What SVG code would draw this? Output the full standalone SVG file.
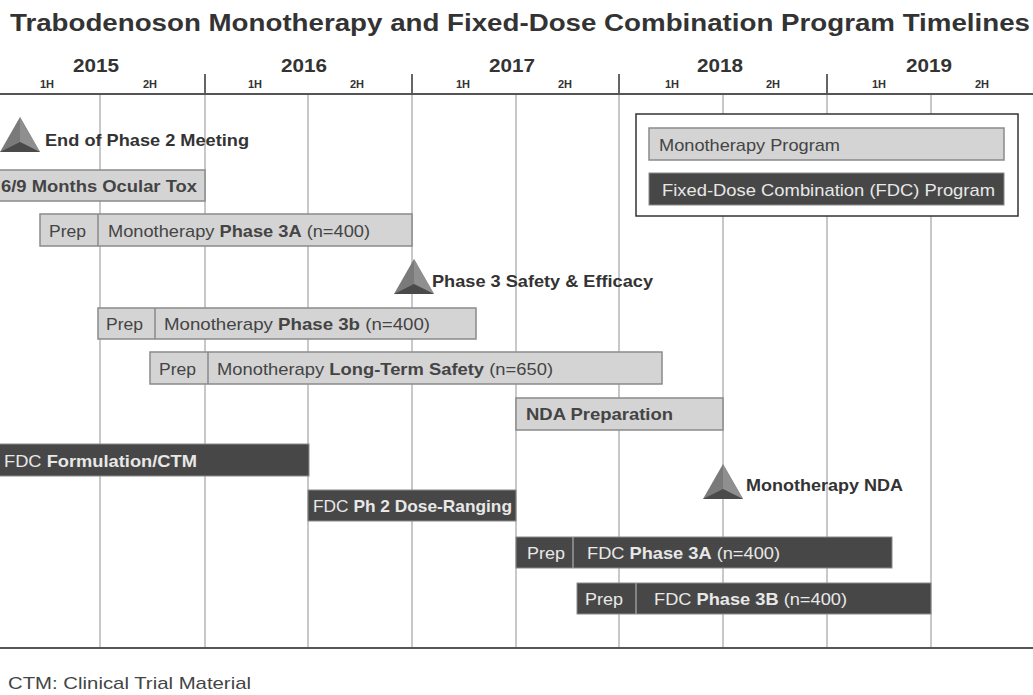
<svg xmlns="http://www.w3.org/2000/svg" width="1033" height="695" viewBox="0 0 1033 695">
<style>
text{font-family:"Liberation Sans",Arial,sans-serif;}
.title{font-size:23px;font-weight:bold;fill:#333;}
.yr{font-size:19px;font-weight:bold;fill:#333;text-anchor:middle;}
.hf{font-size:11px;font-weight:bold;fill:#333;text-anchor:middle;}
.grid{stroke:#c8c8c8;stroke-width:2;}
.tick{stroke:#666;stroke-width:2;}
.axis{stroke:#555;stroke-width:2;}
.lb{fill:#d4d4d4;stroke:#8a8a8a;stroke-width:1.5;}
.db{fill:#474747;stroke:#8a8a8a;stroke-width:1;}
.lt{font-size:17px;fill:#444;}
.dt{font-size:17px;fill:#e8e8e8;}
.b{font-weight:bold;}
.ms{font-size:17px;font-weight:bold;fill:#333;}
.sep{stroke:#8a8a8a;stroke-width:1.5;}
.sepd{stroke:#999;stroke-width:1.5;}
</style>
<defs>
<g id="tri">
<polygon points="0,-19 -20,16 20,16" fill="#7a7a7a"/>
<polygon points="0,-19 0,6 20,16" fill="#8f8f8f"/>
<polygon points="-20,16 0,6 20,16" fill="#4a4a4a"/>
</g>
</defs>
<rect width="1033" height="695" fill="#fff"/>
<text class="title" x="10" y="31" textLength="1020" lengthAdjust="spacingAndGlyphs">Trabodenoson Monotherapy and Fixed-Dose Combination Program Timelines</text>
<g id="axis">
<g class="grid">
<line x1="100" y1="94" x2="100" y2="648"/><line x1="205" y1="94" x2="205" y2="648"/>
<line x1="308" y1="94" x2="308" y2="648"/><line x1="412" y1="94" x2="412" y2="648"/>
<line x1="516" y1="94" x2="516" y2="648"/><line x1="619" y1="94" x2="619" y2="648"/>
<line x1="723" y1="94" x2="723" y2="648"/><line x1="827" y1="94" x2="827" y2="648"/>
<line x1="931" y1="94" x2="931" y2="648"/>
</g>
<g class="tick">
<line x1="205" y1="74" x2="205" y2="94"/><line x1="412" y1="74" x2="412" y2="94"/>
<line x1="619" y1="74" x2="619" y2="94"/><line x1="827" y1="74" x2="827" y2="94"/>
</g>
<line class="axis" x1="0" y1="94" x2="1033" y2="94"/>
<line class="axis" x1="0" y1="648" x2="1033" y2="648"/>
<text class="yr" x="96" y="72" textLength="46" lengthAdjust="spacingAndGlyphs">2015</text>
<text class="yr" x="304" y="72" textLength="46" lengthAdjust="spacingAndGlyphs">2016</text>
<text class="yr" x="512" y="72" textLength="46" lengthAdjust="spacingAndGlyphs">2017</text>
<text class="yr" x="720" y="72" textLength="46" lengthAdjust="spacingAndGlyphs">2018</text>
<text class="yr" x="929" y="72" textLength="46" lengthAdjust="spacingAndGlyphs">2019</text>
<text class="hf" x="47" y="88">1H</text><text class="hf" x="150" y="88">2H</text>
<text class="hf" x="255" y="88">1H</text><text class="hf" x="357" y="88">2H</text>
<text class="hf" x="463" y="88">1H</text><text class="hf" x="565" y="88">2H</text>
<text class="hf" x="672" y="88">1H</text><text class="hf" x="773" y="88">2H</text>
<text class="hf" x="879" y="88">1H</text><text class="hf" x="982" y="88">2H</text>
</g>
<g id="legend">
<rect x="636" y="114" width="382" height="102" fill="#fff" stroke="#333" stroke-width="1.5"/>
<rect class="lb" x="649" y="128" width="355" height="32"/>
<text class="lt" x="659" y="151" textLength="181" lengthAdjust="spacingAndGlyphs">Monotherapy Program</text>
<rect class="db" x="649" y="173" width="355" height="32"/>
<text class="dt" x="662" y="196" textLength="333" lengthAdjust="spacingAndGlyphs">Fixed-Dose Combination (FDC) Program</text>
</g>
<g id="m-eop2">
<use href="#tri" x="20" y="136"/>
<text class="ms" x="45" y="146" textLength="204" lengthAdjust="spacingAndGlyphs">End of Phase 2 Meeting</text>
</g>
<g id="ocular-tox">
<rect class="lb" x="-2" y="170" width="207" height="31"/>
<text class="lt b" x="1" y="192" textLength="196" lengthAdjust="spacingAndGlyphs">6/9 Months Ocular Tox</text>
</g>
<g id="mono-3a">
<rect class="lb" x="40" y="214" width="372" height="32"/>
<line class="sep" x1="98" y1="214" x2="98" y2="246"/>
<text class="lt" x="49" y="237" textLength="37" lengthAdjust="spacingAndGlyphs">Prep</text>
<text class="lt" x="108" y="237" textLength="262" lengthAdjust="spacingAndGlyphs">Monotherapy <tspan class="b">Phase 3A</tspan> (n=400)</text>
</g>
<g id="m-p3se">
<use href="#tri" x="414" y="278"/>
<text class="ms" x="432" y="287" textLength="221" lengthAdjust="spacingAndGlyphs">Phase 3 Safety &amp; Efficacy</text>
</g>
<g id="mono-3b">
<rect class="lb" x="98" y="308" width="378" height="31"/>
<line class="sep" x1="155" y1="308" x2="155" y2="339"/>
<text class="lt" x="106" y="330" textLength="37" lengthAdjust="spacingAndGlyphs">Prep</text>
<text class="lt" x="164" y="330" textLength="266" lengthAdjust="spacingAndGlyphs">Monotherapy <tspan class="b">Phase 3b</tspan>  (n=400)</text>
</g>
<g id="mono-lts">
<rect class="lb" x="150" y="352" width="512" height="32"/>
<line class="sep" x1="208" y1="352" x2="208" y2="384"/>
<text class="lt" x="159" y="375" textLength="37" lengthAdjust="spacingAndGlyphs">Prep</text>
<text class="lt" x="217" y="375" textLength="336" lengthAdjust="spacingAndGlyphs">Monotherapy <tspan class="b">Long-Term Safety</tspan> (n=650)</text>
</g>
<g id="nda-prep">
<rect class="lb" x="516" y="398" width="207" height="32"/>
<text class="lt b" x="526" y="420" textLength="147" lengthAdjust="spacingAndGlyphs">NDA Preparation</text>
</g>
<g id="fdc-form">
<rect class="db" x="-2" y="444" width="311" height="32"/>
<text class="dt" x="4" y="467" textLength="193" lengthAdjust="spacingAndGlyphs">FDC <tspan class="b">Formulation/CTM</tspan></text>
</g>
<g id="fdc-ph2">
<rect class="db" x="308" y="490" width="208" height="31"/>
<text class="dt" x="313" y="512" textLength="199" lengthAdjust="spacingAndGlyphs">FDC <tspan class="b">Ph 2 Dose-Ranging</tspan></text>
</g>
<g id="m-nda">
<use href="#tri" x="723" y="483"/>
<text class="ms" x="746" y="491" textLength="157" lengthAdjust="spacingAndGlyphs">Monotherapy NDA</text>
</g>
<g id="fdc-3a">
<rect class="db" x="516" y="537" width="376" height="31"/>
<line class="sepd" x1="573" y1="537" x2="573" y2="568"/>
<text class="dt" x="527" y="559" textLength="38" lengthAdjust="spacingAndGlyphs">Prep</text>
<text class="dt" x="587" y="559" textLength="193" lengthAdjust="spacingAndGlyphs">FDC <tspan class="b">Phase 3A</tspan> (n=400)</text>
</g>
<g id="fdc-3b">
<rect class="db" x="577" y="583" width="354" height="31"/>
<line class="sepd" x1="636" y1="583" x2="636" y2="614"/>
<text class="dt" x="585" y="605" textLength="38" lengthAdjust="spacingAndGlyphs">Prep</text>
<text class="dt" x="654" y="605" textLength="193" lengthAdjust="spacingAndGlyphs">FDC <tspan class="b">Phase 3B</tspan> (n=400)</text>
</g>
<text x="8" y="689" font-size="17" fill="#444" textLength="243" lengthAdjust="spacingAndGlyphs">CTM:  Clinical Trial Material</text>
</svg>
